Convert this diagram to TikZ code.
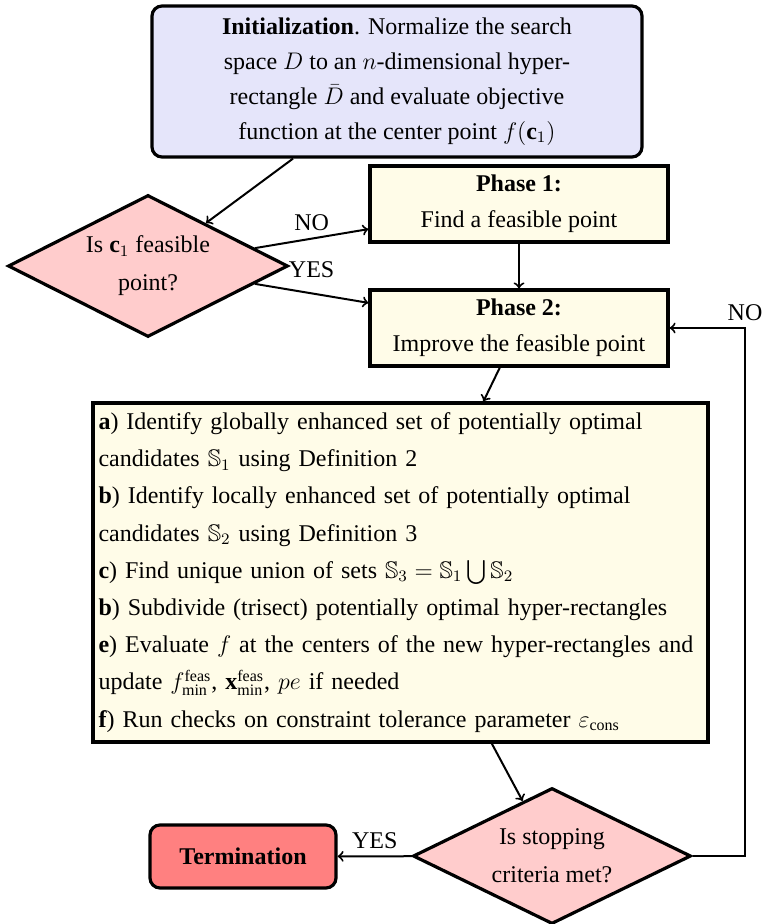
\documentclass[tikz,border=0pt]{standalone}
\usepackage{amsmath,amssymb}
\usepackage{fontspec}
\setmainfont{Liberation Serif}
\usetikzlibrary{arrows,shapes.geometric}
\definecolor{initfill}{RGB}{229,229,250}
\definecolor{phasefill}{RGB}{255,252,232}
\definecolor{decfill}{RGB}{255,204,204}
\definecolor{termfill}{RGB}{255,128,128}
\tikzset{block/.style={draw, line width=1.6pt, fill=phasefill, align=center, inner sep=0pt, font=\fontsize{12}{18}\selectfont}}
\tikzset{decide/.style={diamond, draw, line width=1.6pt, fill=decfill, aspect=2, inner sep=0pt, align=center, font=\fontsize{12}{19}\selectfont}}
\tikzset{arr/.style={draw, ->, line width=1pt}}
\tikzset{lbl/.style={font=\fontsize{12}{13}\selectfont}}

\begin{document}
\begin{tikzpicture}[x=0.5pt, y=-0.5pt]
	\useasboundingbox (0,0) rectangle (764,924);
	\node[block, fill=initfill, rounded corners=5pt, minimum width=245pt, minimum height=75.5pt, font=\fontsize{12}{17.5}\selectfont] (init) at (397,81.5){\textbf{Initialization}. Normalize the search\\ space $D$ to an $n$-dimensional hyper-\\ rectangle $\bar{D}$ and evaluate objective\\ function at the center point $f(\mathbf{c}_1)$};
	\node[decide, minimum width=140pt, minimum height=71pt] (feas) at (148,266){Is $\mathbf{c}_1$ feasible\\ point?};
	\node[block, minimum width=149pt, minimum height=38pt] (ph1) at (519,204){\textbf{Phase 1:}\\ Find a feasible point};
	\node[block, minimum width=149pt, minimum height=38pt] (ph2) at (519,328){\textbf{Phase 2:}\\ Improve the feasible point};
	\node[block, align=left, text width=302pt, minimum width=307.5pt, minimum height=169.5pt, font=\fontsize{12}{18.6}\selectfont] (steps) at (400.5,572.5){%
		\textbf{a}) Identify globally enhanced set of potentially optimal\\
		candidates $\mathbb{S}_1$ using Definition 2\\
		\textbf{b}) Identify locally enhanced set of potentially optimal\\
		candidates $\mathbb{S}_2$ using Definition 3\\
		\textbf{c}) Find unique union of sets $\mathbb{S}_3 = \mathbb{S}_1 \bigcup \mathbb{S}_2$\\
		\textbf{b}) Subdivide (trisect) potentially optimal hyper-rectangles\\
		\textbf{e}) Evaluate $f$ at the centers of the new hyper-rectangles and\\
		update $f^{\text{feas}}_{\text{min}}$, $\mathbf{x}^{\text{feas}}_{\text{min}}$, $pe$ if needed\\
		\textbf{f}) Run checks on constraint tolerance parameter $\varepsilon_{\text{cons}}$};
	\node[decide, minimum width=139pt, minimum height=68pt] (stop) at (552,856){Is stopping\\ criteria met?};
	\node[block, fill=termfill, rounded corners=5pt, minimum width=93pt, minimum height=31.5pt] (term) at (243,856.5){\textbf{Termination}};
	\coordinate (back) at (745,856);
	
	\draw[arr] (init) -- (feas);
	\draw[arr] (feas) -- node[lbl, midway, above] {NO} (ph1);
	\draw[arr] (feas) -- node[lbl, pos=0.5, above=4pt] {YES} (ph2);
	\draw[arr] (ph1) -- (ph2);
	\draw[arr] (ph2) -- (steps);
	\draw[arr] (steps) -- (stop);
	\draw[arr] (stop) -- node[lbl, midway, above] {YES} (term);
	\draw[arr] (stop.east) -- (back) |- node[lbl, pos=0.5, above] {NO} (ph2.east);
\end{tikzpicture}
\end{document}
